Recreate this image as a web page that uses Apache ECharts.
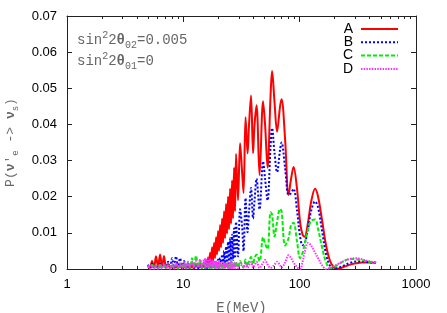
<!DOCTYPE html>
<html><head><meta charset="utf-8">
<script src="https://cdn.jsdelivr.net/npm/echarts@6/dist/echarts.min.js"></script>
<style>html,body{margin:0;padding:0;background:#fff}#c{width:447px;height:313px}</style>
</head><body><div id="c"></div>
<script>
// Energy grid (MeV)
const energy = [4.97,5.17,5.38,5.60,5.82,6.06,6.31,6.56,6.82,7.10,7.39,7.69,8.00,8.32,8.65,9.00,9.37,9.75,10.14,10.55,10.98,11.42,11.88,12.36,12.86,13.38,13.92,14.48,15.07,
15.37,15.68,15.99,16.31,16.63,16.97,17.30,17.65,18.00,18.37,18.73,19.11,19.49,19.88,20.28,20.69,21.10,21.52,21.95,22.39,22.84,23.29,23.76,24.23,24.72,25.21,25.72,26.23,26.75,27.29,27.83,28.39,
29.53,30.73,31.97,32.93,34.26,35.65,36.72,38.20,39.74,40.95,42.60,45.20,48.46,50.41,52.97,56.21,57.91,60.84,63.93,67.84,69.88,74.91,80.25,84.37,88.64,94.99,100.8,105.9,110.2,118.1,125.3,135.7,144.0,155.8,168.7,182.6,197.6,213.9,240.9,271.3,305.5,344.0,387.5,453.9];

const probA = [0.0008,0.0002,0.0022,0.0004,0.0035,0.0006,0.0040,0.0005,0.0036,0.0003,0.0015,0.0001,0.0010,0.0001,0.0008,0.0001,0.0012,0.0001,0.0010,0.0001,0.0012,0.0001,0.0010,0.0001,0.0013,0.0002,0.0014,0.0002,0.0018,
0.0002,0.0025,0.0004,0.0032,0.0008,0.0045,0.0015,0.0060,0.0022,0.0072,0.0030,0.0088,0.0040,0.0105,0.0050,0.0122,0.0060,0.0140,0.0072,0.0160,0.0085,0.0180,0.0098,0.0200,0.0110,0.0222,0.0125,0.0245,0.0140,0.0280,0.0160,0.0318,
0.0190,0.0348,0.0270,0.0210,0.0420,0.0320,0.0400,0.0480,0.0320,0.0400,0.0453,0.0260,0.0464,0.0400,0.0280,0.0480,0.0548,0.0460,0.0380,0.0450,0.0470,0.0360,0.0205,0.0250,0.0282,0.0220,0.0130,0.0095,0.0089,0.0130,0.0185,0.0222,0.0200,0.0135,0.0065,0.0022,0.0005,0.0001,0.0006,0.0012,0.0016,0.0018,0.0018,0.0017];

const probB = [0.0012,0.0002,0.0015,0.0002,0.0012,0.0001,0.0015,0.0002,0.0012,0.0002,0.0020,0.0003,0.0030,0.0004,0.0035,0.0005,0.0030,0.0003,0.0022,0.0002,0.0015,0.0001,0.0015,0.0001,0.0014,0.0001,0.0015,0.0002,0.0016,
0.0002,0.0017,0.0002,0.0018,0.0002,0.0018,0.0002,0.0018,0.0003,0.0020,0.0003,0.0022,0.0004,0.0026,0.0005,0.0030,0.0006,0.0040,0.0008,0.0050,0.0010,0.0062,0.0013,0.0075,0.0016,0.0085,0.0020,0.0095,0.0025,0.0112,0.0030,0.0130,
0.0035,0.0165,0.0120,0.0050,0.0196,0.0102,0.0160,0.0224,0.0140,0.0190,0.0250,0.0165,0.0298,0.0250,0.0190,0.0340,0.0390,0.0320,0.0268,0.0330,0.0350,0.0280,0.0205,0.0210,0.0222,0.0160,0.0090,0.0066,0.0070,0.0110,0.0160,0.0187,0.0170,0.0105,0.0040,0.0008,0.0001,0.0003,0.0010,0.0017,0.0021,0.0021,0.0019,0.0017];

const probC = [0.0010,0.0002,0.0012,0.0002,0.0010,0.0001,0.0012,0.0002,0.0010,0.0001,0.0010,0.0001,0.0012,0.0002,0.0012,0.0001,0.0015,0.0002,0.0015,0.0002,0.0018,0.0003,0.0030,0.0005,0.0037,0.0004,0.0025,0.0003,0.0016,
0.0002,0.0015,0.0002,0.0015,0.0002,0.0015,0.0002,0.0015,0.0002,0.0015,0.0002,0.0015,0.0002,0.0015,0.0002,0.0015,0.0002,0.0015,0.0002,0.0015,0.0003,0.0016,0.0003,0.0016,0.0003,0.0017,0.0003,0.0018,0.0003,0.0019,0.0004,0.0020,
0.0004,0.0022,0.0012,0.0005,0.0026,0.0008,0.0022,0.0033,0.0012,0.0030,0.0040,0.0022,0.0088,0.0070,0.0055,0.0157,0.0150,0.0090,0.0130,0.0166,0.0160,0.0065,0.0085,0.0122,0.0128,0.0075,0.0030,0.0045,0.0068,0.0110,0.0133,0.0137,0.0110,0.0060,0.0018,0.0002,0.0005,0.0012,0.0022,0.0028,0.0027,0.0024,0.0021,0.0018];

const probD = [0.0008,0.0001,0.0010,0.0001,0.0012,0.0002,0.0012,0.0001,0.0015,0.0002,0.0015,0.0002,0.0015,0.0002,0.0018,0.0003,0.0018,0.0002,0.0020,0.0003,0.0020,0.0003,0.0020,0.0003,0.0022,0.0004,0.0025,0.0004,0.0028,
0.0004,0.0029,0.0005,0.0030,0.0004,0.0028,0.0004,0.0025,0.0003,0.0023,0.0003,0.0022,0.0003,0.0021,0.0003,0.0020,0.0003,0.0019,0.0003,0.0018,0.0002,0.0018,0.0002,0.0018,0.0002,0.0017,0.0002,0.0017,0.0002,0.0016,0.0002,0.0016,
0.0002,0.0016,0.0008,0.0003,0.0018,0.0003,0.0010,0.0019,0.0004,0.0010,0.0020,0.0003,0.0018,0.0025,0.0012,0.0003,0.0005,0.0012,0.0020,0.0010,0.0004,0.0018,0.0038,0.0030,0.0018,0.0005,0.0000,0.0020,0.0045,0.0072,0.0065,0.0045,0.0030,0.0010,0.0000,0.0003,0.0008,0.0014,0.0022,0.0028,0.0030,0.0027,0.0022,0.0018];

const seriesNames = ['A','B','C','D'];
const seriesColors = ['#ff0000','#0000ff','#00ee00','#ff33ff'];
const minorTickValues = [2,3,4,5,6,7,8,9,20,30,40,50,60,70,80,90,200,300,400,500,600,700,800,900];

const mono = '"Liberation Mono","DejaVu Sans Mono",monospace';
const sans = '"Liberation Sans",Arial,sans-serif';
const axisColor = '#222';

function pairs(ys){ return energy.map((e,i)=>[e, ys[i]]); }
const allProbs = [probA, probB, probC, probD];
const dashTypes = ['solid',[2,2],[4,2],[1.5,1.2]];

const logAxis = {type:'log', logBase:10, min:1, max:1000, splitLine:{show:false}};

const chart = echarts.init(document.getElementById('c'), null, {renderer:'canvas'});
chart.setOption({
  animation:false,
  backgroundColor:'#fff',
  grid:{left:67,right:31,top:16,bottom:44,containLabel:false,outerBoundsMode:'none'},
  xAxis:[
    Object.assign({}, logAxis, {position:'bottom',
      axisLine:{show:true,onZero:false,lineStyle:{color:axisColor,width:1}},
      axisTick:{show:true,inside:true,length:6,lineStyle:{color:axisColor}},
      axisLabel:{color:'#000',fontFamily:sans,fontSize:13,margin:9,formatter:function(v){return String(v);}},
      name:'E(MeV)',nameLocation:'middle',nameGap:32,
      nameTextStyle:{fontFamily:mono,fontSize:14,color:'#666'}}),
    Object.assign({}, logAxis, {position:'bottom',
      axisLine:{show:false,onZero:false},
      axisTick:{show:true,inside:true,length:3,customValues:minorTickValues,lineStyle:{color:axisColor}},
      axisLabel:{show:false}}),
    Object.assign({}, logAxis, {position:'top',
      axisLine:{show:true,onZero:false,lineStyle:{color:axisColor,width:1}},
      axisTick:{show:true,inside:true,length:6,lineStyle:{color:axisColor}},
      axisLabel:{show:false}}),
    Object.assign({}, logAxis, {position:'top',
      axisLine:{show:false,onZero:false},
      axisTick:{show:true,inside:true,length:3,customValues:minorTickValues,lineStyle:{color:axisColor}},
      axisLabel:{show:false}})
  ],
  yAxis:[
    {type:'value',min:0,max:0.07,interval:0.01,position:'left',
     axisLine:{show:true,onZero:false,lineStyle:{color:axisColor,width:1}},
     axisTick:{show:true,inside:true,length:5,lineStyle:{color:axisColor}},
     axisLabel:{color:'#000',fontFamily:sans,fontSize:13,margin:10},
     splitLine:{show:false},
     name:"{a|P(}{b|ν}{a|'}{s|e}{a| -> }{b|ν}{s|s}{a|)}",
     nameLocation:'middle',nameGap:47,nameRotate:90,
     nameTextStyle:{color:'#666',fontFamily:mono,fontSize:13,
       rich:{
         a:{color:'#666',fontFamily:mono,fontSize:13,lineHeight:18},
         b:{color:'#666',fontFamily:mono,fontSize:13,fontWeight:'bold',lineHeight:18},
         s:{color:'#666',fontFamily:mono,fontSize:9,verticalAlign:'bottom',lineHeight:12}
       }}},
    {type:'value',min:0,max:0.07,interval:0.01,position:'right',
     axisLine:{show:true,onZero:false,lineStyle:{color:axisColor,width:1}},
     axisTick:{show:true,inside:true,length:5,lineStyle:{color:axisColor}},
     axisLabel:{show:false},splitLine:{show:false}}
  ],
  legend:{orient:'vertical',right:43,top:17,align:'right',itemWidth:37,itemHeight:8,itemGap:-0.7,
    itemStyle:{opacity:0},
    textStyle:{fontFamily:sans,fontSize:14,color:'#000',padding:[0,3,0,0]},
    data:seriesNames},
  graphic:[
    {type:'text',x:77,y:40,style:{
      text:'{a|sin}{p|2}{a|2}{b|θ}{s|02}{a|=0.005}',verticalAlign:'middle',
      rich:{
        a:{fill:'#666',fontFamily:mono,fontSize:14,lineHeight:20},
        b:{fill:'#666',fontFamily:mono,fontSize:14,fontWeight:'bold',lineHeight:20},
        p:{fill:'#666',fontFamily:mono,fontSize:10,verticalAlign:'top',lineHeight:12},
        s:{fill:'#666',fontFamily:mono,fontSize:10,verticalAlign:'bottom',lineHeight:12}
      }}},
    {type:'text',x:77,y:61,style:{
      text:'{a|sin}{p|2}{a|2}{b|θ}{s|01}{a|=0}',verticalAlign:'middle',
      rich:{
        a:{fill:'#666',fontFamily:mono,fontSize:14,lineHeight:20},
        b:{fill:'#666',fontFamily:mono,fontSize:14,fontWeight:'bold',lineHeight:20},
        p:{fill:'#666',fontFamily:mono,fontSize:10,verticalAlign:'top',lineHeight:12},
        s:{fill:'#666',fontFamily:mono,fontSize:10,verticalAlign:'bottom',lineHeight:12}
      }}}
  ],
  series: seriesNames.map((n,i)=>({
    name:n,type:'line',xAxisIndex:0,yAxisIndex:0,
    data:pairs(allProbs[i]),
    symbol:'none',smooth:0.35,
    lineStyle:{color:seriesColors[i],width:2,type:dashTypes[i]},
    itemStyle:{color:seriesColors[i]}
  }))
});
</script></body></html>
